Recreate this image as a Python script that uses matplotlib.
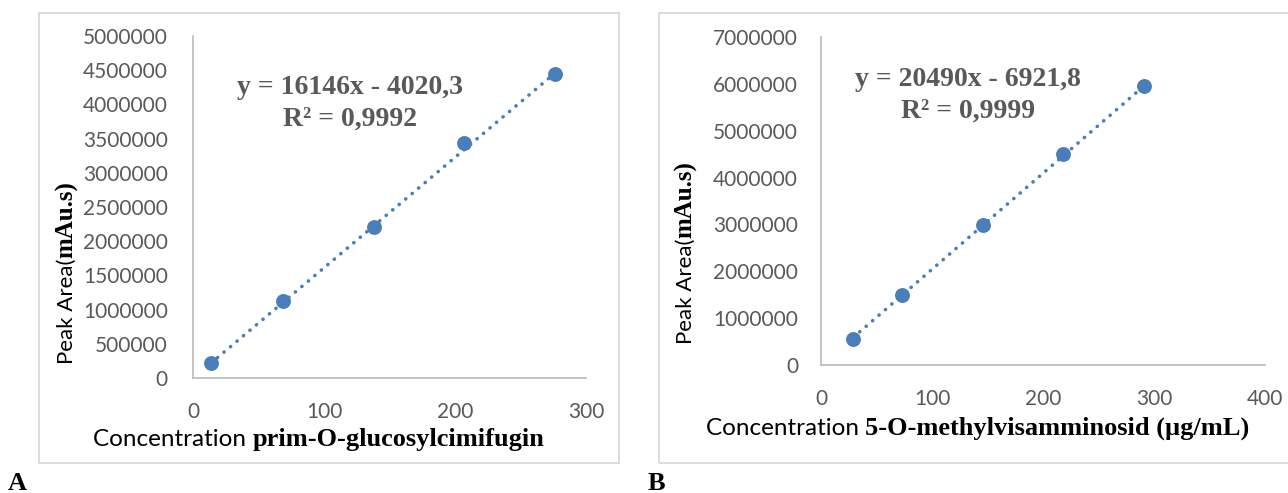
import matplotlib.pyplot as plt
from matplotlib.patches import Rectangle

# panel A data
conc_a = [13.75, 69, 138, 207, 276]
area_a = [220000, 1125000, 2210000, 3440000, 4440000]
slope_a, icpt_a = 16146, -4020.3
eq_a = ["y = 16146x - 4020,3", "R² = 0,9992"]
xticks_a = [0, 100, 200, 300]
yticks_a = list(range(0, 5000001, 500000))

# panel B data
conc_b = [29.1, 72.75, 145.5, 218.25, 291]
area_b = [560000, 1495000, 2990000, 4500000, 5960000]
slope_b, icpt_b = 20490, -6921.8
eq_b = ["y = 20490x - 6921,8", "R² = 0,9999"]
xticks_b = [0, 100, 200, 300, 400]
yticks_b = list(range(0, 7000001, 1000000))

W, H = 1288, 493
SANS = "Lato"
SERIF = "Liberation Serif"
GREY = "#595959"
BLUE = "#4A7EBB"

fig = plt.figure(figsize=(W / 100, H / 100), dpi=100)


def fx(px):
    return px / W


def fy(py):
    return 1 - py / H


def box(x0, y0, x1, y1):
    fig.patches.append(Rectangle((fx(x0), fy(y1)), fx(x1 - x0), (y1 - y0) / H,
                                 transform=fig.transFigure, fill=False,
                                 ec="#D9D9D9", lw=1.3))


def panel(rect, xs, ys, slope, icpt, xt, yt, xmax, ymax, eq, eq_xy, ypad):
    l, t, r, b = rect
    ax = fig.add_axes([fx(l), fy(b), fx(r - l), (b - t) / H])
    ax.set_xlim(0, xmax)
    ax.set_ylim(0, ymax)
    ax.set_xticks(xt)
    ax.set_yticks(yt)
    ax.set_yticklabels([str(v) for v in yt])
    for s in ["top", "right"]:
        ax.spines[s].set_visible(False)
    for s in ["left", "bottom"]:
        ax.spines[s].set_color("#BFBFBF")
        ax.spines[s].set_linewidth(1.3)
    ax.tick_params(length=0, labelsize=15, labelcolor=GREY)
    ax.tick_params(axis="y", pad=ypad)
    ax.tick_params(axis="x", pad=17)
    for lab in ax.get_xticklabels() + ax.get_yticklabels():
        lab.set_fontfamily(SANS)
    fit_x = [xs[0], xs[-1]]
    fit_y = [slope * v + icpt for v in fit_x]
    ax.plot(fit_x, fit_y, color=BLUE, lw=2.6, ls=(0, (0.05, 2.3)),
            dash_capstyle="round", zorder=2)
    ax.scatter(xs, ys, s=115, color=BLUE, zorder=3, lw=0)
    ax.patch.set_alpha(0)
    fig.text(fx(eq_xy[0]), fy(eq_xy[1]), eq[0], ha="center", va="center",
             family=SERIF, weight="bold", size=20, color=GREY)
    fig.text(fx(eq_xy[0]), fy(eq_xy[1] + 31), eq[1], ha="center", va="center",
             family=SERIF, weight="bold", size=20, color=GREY)
    return ax


def mixed_x(x, y, plain, bold):
    t1 = fig.text(fx(x), fy(y), plain, ha="left", va="baseline",
                  family=SANS, size=17.5, color="black")
    fig.canvas.draw()
    w = t1.get_window_extent().width
    fig.text(fx(x + w), fy(y), bold, ha="left", va="baseline",
             family=SERIF, weight="bold", size=19, color="black")


def mixed_y(x, y, plain, bold):
    t1 = fig.text(fx(x), fy(y), plain, ha="left", va="baseline", rotation=90,
                  rotation_mode="anchor", family=SANS, size=16, color="black")
    fig.canvas.draw()
    h = t1.get_window_extent().height
    fig.text(fx(x), fy(y - h), bold, ha="left", va="baseline", rotation=90,
             rotation_mode="anchor", family=SERIF, weight="bold", size=18,
             color="black")


box(39, 13, 619, 463)
box(659, 13, 1295, 463)

panel((193, 36, 586, 378), conc_a, area_a, slope_a, icpt_a, xticks_a, yticks_a,
      300, 5000000, eq_a, (350, 88), 18)
panel((821, 37, 1265, 365), conc_b, area_b, slope_b, icpt_b, xticks_b, yticks_b,
      400, 7000000, eq_b, (968, 80), 16.5)

mixed_x(93, 446, "Concentration ", "prim-O-glucosylcimifugin")
mixed_x(706, 435, "Concentration ", "5-O-methylvisamminosid (µg/mL)")
mixed_y(73, 364, "Peak Area(", "mAu.s)")
mixed_y(692, 344, "Peak Area(", "mAu.s)")

fig.text(fx(8), fy(490), "A", ha="left", va="baseline", family=SERIF,
         weight="bold", size=19)
fig.text(fx(648), fy(490), "B", ha="left", va="baseline", family=SERIF,
         weight="bold", size=19)

fig.savefig("out.png", dpi=100)
